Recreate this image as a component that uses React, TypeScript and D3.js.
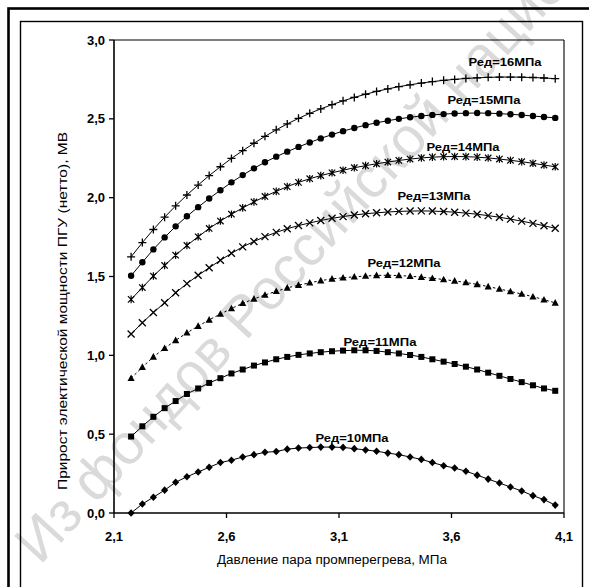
import React from "react";
import * as d3 from "d3";

// ---------- data ----------
const xValues = [
  2.176, 2.226, 2.275, 2.325, 2.374, 2.424, 2.474, 2.523, 2.573, 2.622,
  2.672, 2.722, 2.771, 2.821, 2.87, 2.92, 2.97, 3.019, 3.069, 3.118,
  3.168, 3.218, 3.267, 3.317, 3.366, 3.416, 3.466, 3.515, 3.565, 3.614,
  3.664, 3.714, 3.763, 3.813, 3.862, 3.912, 3.962, 4.011, 4.061,
];

const p10 = [
  0.0, 0.057, 0.1, 0.145, 0.195, 0.23, 0.26, 0.29, 0.32, 0.335,
  0.355, 0.37, 0.385, 0.39, 0.405, 0.412, 0.415, 0.418, 0.418, 0.416,
  0.408, 0.4, 0.392, 0.38, 0.37, 0.355, 0.34, 0.32, 0.3, 0.285,
  0.265, 0.24, 0.215, 0.19, 0.165, 0.14, 0.11, 0.085, 0.05,
];
const p11 = [
  0.485, 0.55, 0.61, 0.665, 0.71, 0.755, 0.79, 0.825, 0.855, 0.885,
  0.91, 0.935, 0.955, 0.975, 0.99, 1.003, 1.012, 1.02, 1.026, 1.03,
  1.032, 1.032, 1.028, 1.02, 1.012, 1.002, 0.99, 0.975, 0.96, 0.945,
  0.928, 0.91, 0.89, 0.87, 0.85, 0.83, 0.81, 0.79, 0.775,
];
const p12 = [
  0.855, 0.925, 0.99, 1.045, 1.095, 1.143, 1.185, 1.225, 1.262, 1.297,
  1.33, 1.358, 1.383, 1.406, 1.428, 1.445, 1.46, 1.474, 1.485, 1.492,
  1.498, 1.503, 1.507, 1.508, 1.506, 1.502, 1.496, 1.489, 1.481, 1.472,
  1.462, 1.45, 1.436, 1.421, 1.405, 1.389, 1.372, 1.353, 1.333,
];
const p13 = [
  1.135, 1.207, 1.272, 1.333, 1.397, 1.455, 1.508, 1.555, 1.603, 1.647,
  1.688, 1.722, 1.753, 1.78, 1.803, 1.823, 1.84, 1.855, 1.869, 1.88,
  1.89, 1.898, 1.904, 1.909, 1.913, 1.915, 1.916, 1.915, 1.912, 1.908,
  1.902, 1.895, 1.886, 1.876, 1.864, 1.851, 1.837, 1.822, 1.806,
];
const p14 = [
  1.355, 1.43, 1.503, 1.57, 1.635, 1.697, 1.752, 1.805, 1.852, 1.895,
  1.935, 1.973, 2.008, 2.04, 2.07, 2.097, 2.12, 2.14, 2.158, 2.174,
  2.19, 2.203, 2.215, 2.226, 2.236, 2.245, 2.252, 2.257, 2.26, 2.261,
  2.26, 2.257, 2.252, 2.245, 2.237, 2.228, 2.218, 2.207, 2.196,
];
const p15 = [
  1.505, 1.59, 1.672, 1.748, 1.818, 1.882, 1.94, 1.995, 2.047, 2.097,
  2.143, 2.186, 2.225, 2.26, 2.292, 2.322, 2.35, 2.376, 2.4, 2.422,
  2.442, 2.46, 2.475, 2.488, 2.5, 2.51, 2.518, 2.525, 2.53, 2.534,
  2.536, 2.537, 2.536, 2.533, 2.529, 2.524, 2.518, 2.512, 2.506,
];
const p16 = [
  1.625, 1.715, 1.798, 1.876, 1.948, 2.017, 2.08, 2.14, 2.196, 2.249,
  2.298, 2.345, 2.389, 2.43, 2.468, 2.503, 2.535, 2.563, 2.59, 2.614,
  2.636, 2.656, 2.674, 2.69, 2.704, 2.716, 2.727, 2.736, 2.744, 2.75,
  2.756, 2.76, 2.763, 2.765, 2.765, 2.764, 2.762, 2.759, 2.755,
];

const seriesNames = [
  "Ред=10МПа", "Ред=11МПа", "Ред=12МПа", "Ред=13МПа",
  "Ред=14МПа", "Ред=15МПа", "Ред=16МПа",
];
const seriesValues = [p10, p11, p12, p13, p14, p15, p16];
// label anchor (centre) in data units
const labelX = [3.158, 3.282, 3.389, 3.522, 3.651, 3.744, 3.838];
const labelY = [0.476, 1.085, 1.586, 2.011, 2.322, 2.62, 2.86];

const xTicks = [2.1, 2.6, 3.1, 3.6, 4.1];
const yTicks = [0, 0.5, 1.0, 1.5, 2.0, 2.5, 3.0];

const xTitle = "Давление пара промперегрева, МПа";
const yTitle = "Прирост электической мощности ПГУ (нетто), МВ";
const watermark = "Из фондов Российской национальной библиотеки";

// ---------- layout ----------
const W = 589;
const H = 587;
const L = 114, R = 564, T = 40, B = 513;
const FONT = "Arial, 'Liberation Sans', sans-serif";

const markerTypes = ["diamond", "square", "triangle", "x", "star", "circle", "plus"];

function Marker({ type, x, y }: { type: string; x: number; y: number }) {
  const t = `translate(${x},${y})`;
  switch (type) {
    case "diamond":
      return <path transform={t} d="M0,-3.8L3.6,0L0,3.8L-3.6,0Z" fill="#000" />;
    case "square":
      return <rect transform={t} x={-3} y={-3} width={6} height={6} fill="#000" />;
    case "triangle":
      return <path transform={t} d="M0,-3.8L3.6,2.8L-3.6,2.8Z" fill="#000" />;
    case "x":
      return <path transform={t} d="M-3.5,-3.5L3.5,3.5M-3.5,3.5L3.5,-3.5" stroke="#000" strokeWidth={1.3} fill="none" />;
    case "star":
      return <path transform={t} d="M-3.2,-3.2L3.2,3.2M-3.2,3.2L3.2,-3.2M0,-3.8L0,3.8" stroke="#000" strokeWidth={1.2} fill="none" />;
    case "circle":
      return <circle cx={x} cy={y} r={3.2} fill="#000" />;
    case "plus":
    default:
      return <path transform={t} d="M-4,0L4,0M0,-4L0,4" stroke="#000" strokeWidth={1.3} fill="none" />;
  }
}

export default function App() {
  const x = d3.scaleLinear().domain([2.1, 4.1]).range([L, R]);
  const y = d3.scaleLinear().domain([0, 3]).range([B, T]);
  const fmt = (v: number) => d3.format(".1f")(v).replace(".", ",");

  const line = d3
    .line<number>()
    .x((_, i) => x(xValues[i]))
    .y((d) => y(d));

  return (
    <svg
      width={W}
      height={H}
      viewBox={`0 0 ${W} ${H}`}
      style={{ position: "absolute", left: 0, top: 0, background: "#fff" }}
      fontFamily={FONT}
    >
      <rect x={0} y={0} width={W} height={H} fill="#fff" />

      {/* watermark */}
      <text
        x={40}
        y={566}
        transform="rotate(-47.5 40 566)"
        fontSize={57}
        fill="#dadada"
      >
        {watermark}
      </text>

      {/* frames */}
      <rect x={8.5} y={8.5} width={590} height={600} fill="none" stroke="#000" strokeWidth={2.6} />
      <rect x={20.5} y={21.5} width={562} height={600} fill="none" stroke="#000" strokeWidth={1.4} />

      {/* plot box */}
      <line x1={L} y1={T} x2={R} y2={T} stroke="#000" strokeWidth={1.1} />
      <line x1={R} y1={T} x2={R} y2={B} stroke="#000" strokeWidth={1.1} />
      <line x1={L} y1={T} x2={L} y2={B} stroke="#000" strokeWidth={1.6} />
      <line x1={L} y1={B} x2={R} y2={B} stroke="#000" strokeWidth={1.6} />

      {/* y ticks */}
      {yTicks.map((t) => (
        <g key={"y" + t}>
          <line x1={L - 5} x2={L} y1={y(t)} y2={y(t)} stroke="#000" strokeWidth={1.3} />
          <text
            x={L - 9}
            y={y(t) + 4.5}
            textAnchor="end"
            fontSize={13}
            fontWeight="bold"
          >
            {fmt(t)}
          </text>
        </g>
      ))}

      {/* x ticks */}
      {xTicks.map((t) => (
        <g key={"x" + t}>
          <line x1={x(t)} x2={x(t)} y1={B} y2={B + 5} stroke="#000" strokeWidth={1.3} />
          <text
            x={x(t)}
            y={B + 28}
            textAnchor="middle"
            fontSize={13}
            fontWeight="bold"
          >
            {fmt(t)}
          </text>
        </g>
      ))}

      {/* axis titles */}
      <text x={332} y={564} textAnchor="middle" fontSize={12.5} textLength={230} lengthAdjust="spacingAndGlyphs">
        {xTitle}
      </text>
      <text
        x={0}
        y={0}
        transform={`translate(67,311) rotate(-90)`}
        textAnchor="middle"
        fontSize={12.5}
        textLength={358}
        lengthAdjust="spacingAndGlyphs"
      >
        {yTitle}
      </text>

      {/* series */}
      {seriesValues.map((vals, si) => (
        <g key={"s" + si}>
          <path
            d={line(vals) || ""}
            fill="none"
            stroke="#000"
            strokeWidth={1}
            strokeDasharray={si === 2 ? "2.5,2.5" : undefined}
          />
          {vals.map((v, i) => (
            <Marker key={i} type={markerTypes[si]} x={x(xValues[i])} y={y(v)} />
          ))}
          <text
            x={x(labelX[si])}
            y={y(labelY[si]) + 4}
            textAnchor="middle"
            fontSize={11}
            fontWeight="bold"
            textLength={73}
            lengthAdjust="spacingAndGlyphs"
          >
            {seriesNames[si]}
          </text>
        </g>
      ))}
    </svg>
  );
}
